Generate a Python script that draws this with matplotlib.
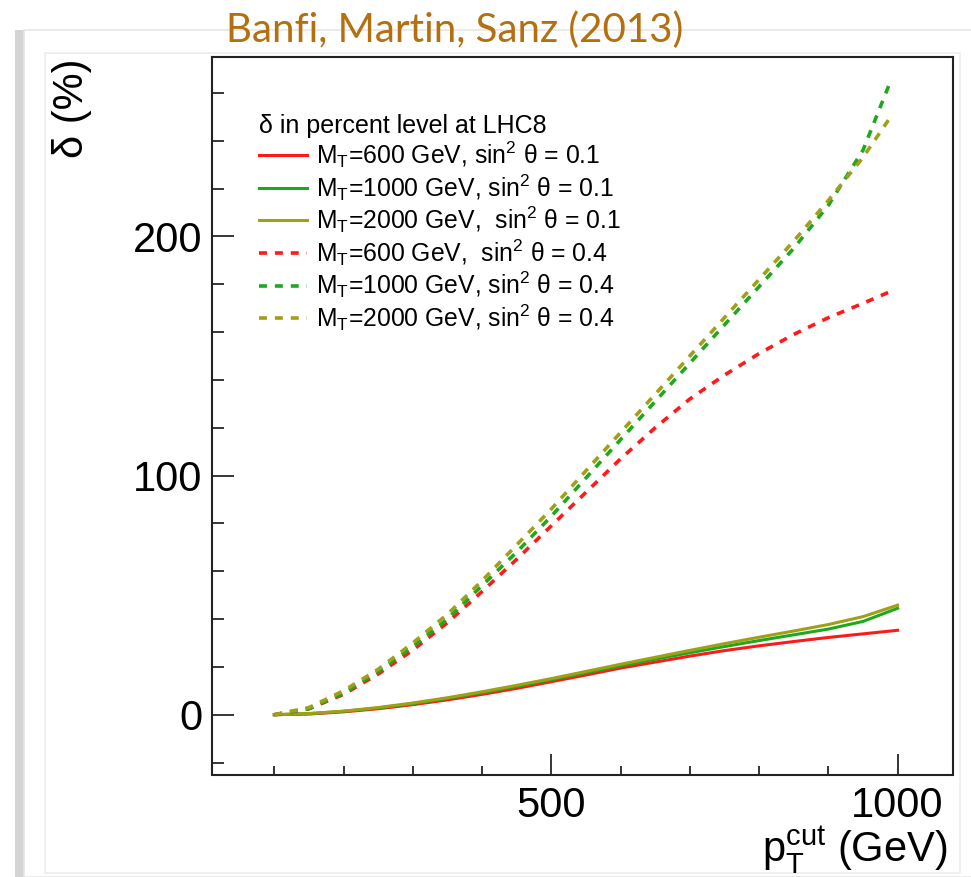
import matplotlib
matplotlib.use("Agg")
import matplotlib.pyplot as plt
from matplotlib.patches import Rectangle
from matplotlib.lines import Line2D

plt.rcParams["font.family"] = ["Liberation Sans", "DejaVu Sans"]
plt.rcParams["mathtext.fontset"] = "custom"
plt.rcParams["mathtext.rm"] = "Liberation Sans"
plt.rcParams["mathtext.it"] = "Liberation Sans:italic"

# p_T cut (GeV)
pt_solid = [100, 150, 200, 250, 300, 350, 400, 450, 500, 550, 600, 650, 700, 750, 800, 850, 900, 950, 1000]
pt_dash = [100, 150, 200, 250, 300, 350, 400, 450, 500, 550, 600, 650, 700, 750, 800, 850, 900, 950, 990]

# delta (%) for sin^2 theta = 0.1
d600_01 = [0, 0.3, 1.2, 2.5, 4.2, 6.2, 8.5, 11.0, 13.8, 16.6, 19.5, 22.0, 24.5, 26.8, 28.8, 30.6, 32.3, 33.8, 35.3]
d1000_01 = [0, 0.4, 1.4, 2.8, 4.6, 6.8, 9.2, 11.8, 14.6, 17.5, 20.4, 23.2, 25.9, 28.5, 31.0, 33.4, 35.8, 39.0, 44.5]
d2000_01 = [0, 0.5, 1.5, 3.0, 4.9, 7.1, 9.6, 12.3, 15.1, 18.1, 21.1, 24.0, 26.9, 29.7, 32.4, 35.0, 37.7, 41.0, 45.8]

# delta (%) for sin^2 theta = 0.4
d600_04 = [0, 2.5, 8.5, 17, 27, 38.5, 51.5, 65, 79, 93, 107, 120, 132, 142, 151, 159, 166, 172, 177]
d1000_04 = [0, 2.5, 9, 18, 28.5, 40, 54, 68, 83, 99, 115, 131, 147, 163, 179, 195, 213, 236, 265]
d2000_04 = [0, 3, 10, 19, 30, 42, 56, 71, 86, 102, 118, 134, 150, 166, 182, 198, 215, 233, 250]

labels = [
    "M$_\\mathrm{T}$=600 GeV, sin$^2$ θ = 0.1",
    "M$_\\mathrm{T}$=1000 GeV, sin$^2$ θ = 0.1",
    "M$_\\mathrm{T}$=2000 GeV,  sin$^2$ θ = 0.1",
    "M$_\\mathrm{T}$=600 GeV,  sin$^2$ θ = 0.4",
    "M$_\\mathrm{T}$=1000 GeV, sin$^2$ θ = 0.4",
    "M$_\\mathrm{T}$=2000 GeV, sin$^2$ θ = 0.4",
]

red = "#ff1a1a"
green = "#1fa81f"
olive = "#a0a018"

W, H = 971, 877
fig = plt.figure(figsize=(W / 100, H / 100), dpi=100)

# panel frame behind the plot
fig.patches.append(Rectangle((15 / W, 0), 9 / W, 1 - 30 / H, transform=fig.transFigure,
                             facecolor="#d4d4d4", edgecolor="none", zorder=-10))
fig.patches.append(Rectangle((24 / W, 0), 1, 1 - 30 / H, transform=fig.transFigure,
                             facecolor="white", edgecolor="#e6e6e6", lw=1.2, zorder=-9))
fig.patches.append(Rectangle((45 / W, 4 / H), 915 / W, 1 - 57 / H, transform=fig.transFigure,
                             facecolor="none", edgecolor="#eeeeee", lw=1.2, zorder=-8))

ax = fig.add_axes([212 / W, 1 - 774.5 / H, (953 - 212) / W, (774.5 - 57) / H])
ax.set_zorder(2)

ax.plot(pt_solid, d600_01, color=red, lw=2.2)
ax.plot(pt_solid, d1000_01, color=green, lw=2.2)
ax.plot(pt_solid, d2000_01, color=olive, lw=2.2)
dash = (0, (2.2, 2.2))
ax.plot(pt_dash, d600_04, color=red, lw=2.6, linestyle=dash)
ax.plot(pt_dash, d1000_04, color=green, lw=2.6, linestyle=dash)
ax.plot(pt_dash, d2000_04, color=olive, lw=2.6, linestyle=dash)

ax.set_xlim(10, 1080)
ax.set_ylim(-25, 275)
ax.set_xticks([500, 1000])
ax.set_xticks(range(100, 1001, 100), minor=True)
ax.set_yticks([0, 100, 200])
ax.set_yticks(range(-20, 275, 20), minor=True)
ax.tick_params(axis="both", which="both", direction="in", top=False, right=False,
               width=1.1, labelsize=30)
ax.tick_params(axis="y", which="major", length=16, pad=7)
ax.tick_params(axis="y", which="minor", length=8.5)
ax.tick_params(axis="x", which="major", length=15, pad=8)
ax.tick_params(axis="x", which="minor", length=6.5)
for s in ax.spines.values():
    s.set_linewidth(1.5)
    s.set_color("#222222")

handles = [
    Line2D([], [], color=red, lw=2.2),
    Line2D([], [], color=green, lw=2.2),
    Line2D([], [], color=olive, lw=2.2),
    Line2D([], [], color=red, lw=2.6, linestyle=dash),
    Line2D([], [], color=green, lw=2.6, linestyle=dash),
    Line2D([], [], color=olive, lw=2.6, linestyle=dash),
]
leg = ax.legend(handles, labels, title="δ in percent level at LHC8", loc="upper left",
                bbox_to_anchor=(0.05, 0.935), frameon=False, fontsize=17.8,
                title_fontsize=18, handlelength=1.95, handletextpad=0.36,
                labelspacing=0.08, borderaxespad=0)
leg._legend_box.align = "left"

fig.text(72 / W, 1 - 58 / H, "δ (%)", rotation=90, ha="center", va="top", fontsize=30)
fig.text(948 / W, 1 - 862 / H, "$\\mathrm{p}_\\mathrm{T}^\\mathrm{cut}$ (GeV)", ha="right",
         va="baseline", fontsize=30)
fig.text(455 / W, 1 - 30 / H, "Banfi, Martin, Sanz (2013)", ha="center", va="center",
         fontsize=29, color="#b36f10", family=["Lato", "DejaVu Sans"])

fig.savefig("out.png", dpi=100)
